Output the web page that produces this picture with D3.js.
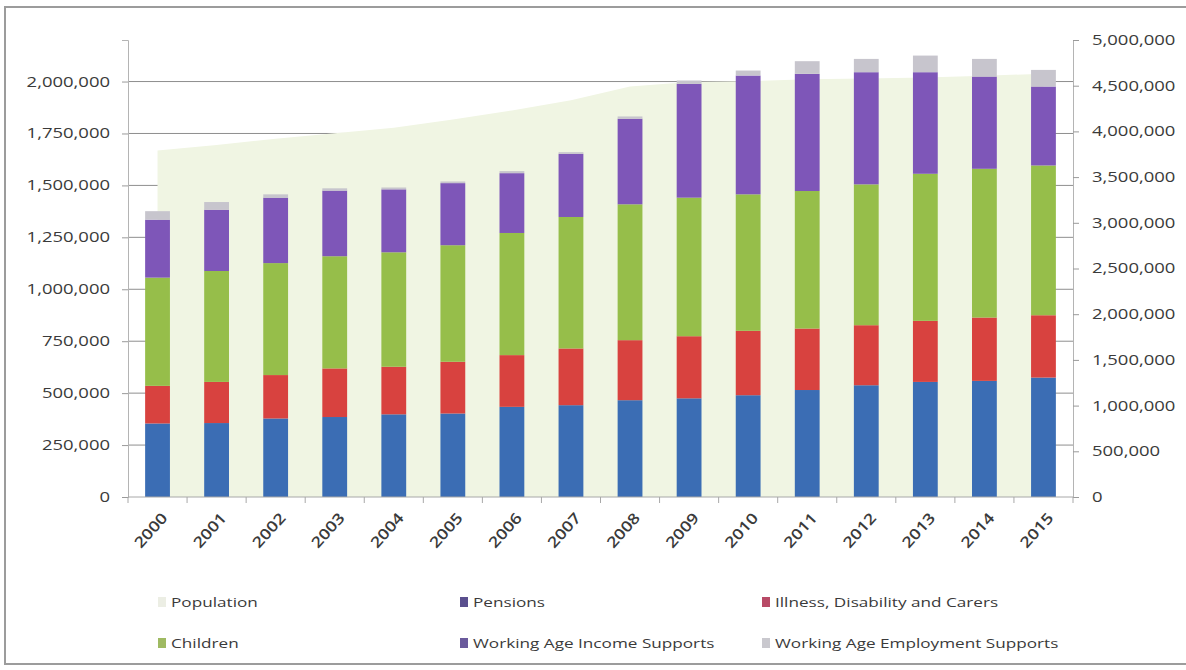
<!DOCTYPE html>
<html>
<head>
<meta charset="utf-8">
<script src="https://cdn.jsdelivr.net/npm/d3@7"></script>
<style>
  html, body { margin: 0; padding: 0; background: #ffffff; }
  svg { display: block; }
  text { font-family: "Open Sans", "Noto Sans", sans-serif; fill: #3a3a3a; }
</style>
</head>
<body>
<svg id="chart" width="1186" height="670"></svg>
<script>
// Social welfare recipients by scheme group (left axis) and population (right axis)
const years = ["2000","2001","2002","2003","2004","2005","2006","2007",
               "2008","2009","2010","2011","2012","2013","2014","2015"];

const pensions   = [354000, 356000, 378000, 385000, 398000, 402000, 434000, 442000,
                    466000, 475000, 490000, 515000, 538000, 554000, 559000, 575000];
const illness    = [181000, 198000, 209000, 234000, 229000, 249000, 249000, 273000,
                    289000, 299000, 310000, 296000, 289000, 294000, 305000, 300000];
const children   = [521000, 534000, 539000, 540000, 551000, 561000, 588000, 633000,
                    654000, 667000, 657000, 662000, 678000, 708000, 716000, 721000];
const incomeSupp = [279000, 295000, 315000, 316000, 303000, 299000, 288000, 304000,
                    412000, 548000, 572000, 564000, 540000, 489000, 444000, 380000];
const employSupp = [41000, 37000, 16000, 11000, 9000, 8000, 10000, 8000,
                    11000, 16000, 24000, 61000, 64000, 80000, 85000, 80000];

const population = [3790000, 3850000, 3920000, 3980000, 4040000, 4130000, 4230000, 4340000,
                    4490000, 4540000, 4550000, 4570000, 4580000, 4590000, 4610000, 4630000];

const leftTicks  = [0, 250000, 500000, 750000, 1000000, 1250000, 1500000, 1750000, 2000000];
const rightTicks = [0, 500000, 1000000, 1500000, 2000000, 2500000, 3000000, 3500000,
                    4000000, 4500000, 5000000];

const seriesKeys   = ["Pensions", "Illness, Disability and Carers", "Children",
                      "Working Age Income Supports", "Working Age Employment Supports"];
const seriesValues = [pensions, illness, children, incomeSupp, employSupp];
const barColors    = ["#3b6db4", "#d8423f", "#96be4a", "#7e56b8", "#c7c5cd"];

const legendItems = [
  { label: "Population",                       color: "#eceee4" },
  { label: "Pensions",                         color: "#5a4f8e" },
  { label: "Illness, Disability and Carers",   color: "#b84a66" },
  { label: "Children",                         color: "#9fba62" },
  { label: "Working Age Income Supports",      color: "#6a5a9c" },
  { label: "Working Age Employment Supports",  color: "#c9c8ce" }
];

const SX = 1.32; // horizontal text stretch

const svg = d3.select("#chart");

// outer frame
svg.append("rect")
  .attr("x", 5).attr("y", 7).attr("width", 1190).attr("height", 657)
  .attr("fill", "none").attr("stroke", "#9c9c9c").attr("stroke-width", 2);

const plotLeft = 128, plotRight = 1073, plotTop = 40, plotBottom = 497;

const x = d3.scaleBand().domain(years).range([plotLeft, plotRight])
  .paddingInner(0.58).paddingOuter(0.29);
const yL = d3.scaleLinear().domain([0, 2200000]).range([plotBottom, plotTop]);
const yR = d3.scaleLinear().domain([0, 5000000]).range([plotBottom, plotTop]);

// horizontal gridlines (left axis)
svg.append("g").selectAll("line").data(leftTicks.filter(d => d > 0)).join("line")
  .attr("x1", plotLeft).attr("x2", plotRight)
  .attr("y1", d => yL(d)).attr("y2", d => yL(d))
  .attr("stroke", "#8e8e8e").attr("stroke-width", 1);

// population area (right axis)
const popData = years.map((y, i) => ({ year: y, value: population[i] }));
const area = d3.area()
  .x(d => x(d.year) + x.bandwidth() / 2)
  .y0(yR(0))
  .y1(d => yR(d.value));
svg.append("path").datum(popData)
  .attr("d", area)
  .attr("fill", "#f0f5e3");

// stacked bars
const rows = years.map((y, i) => {
  const r = { year: y };
  seriesKeys.forEach((k, j) => { r[k] = seriesValues[j][i]; });
  return r;
});
const stacked = d3.stack().keys(seriesKeys)(rows);
svg.append("g").selectAll("g").data(stacked).join("g")
  .attr("fill", (d, i) => barColors[i])
  .selectAll("rect").data(d => d).join("rect")
  .attr("x", d => x(d.data.year))
  .attr("width", x.bandwidth())
  .attr("y", d => yL(d[1]))
  .attr("height", d => yL(d[0]) - yL(d[1]));

// left axis
const gL = svg.append("g").attr("transform", `translate(${plotLeft},0)`)
  .call(d3.axisLeft(yL).tickValues(leftTicks).tickSize(6).tickPadding(12)
        .tickFormat(d3.format(",")));
gL.select(".domain").attr("stroke", "#b4b4b4");
gL.selectAll(".tick line").attr("stroke", "#9a9a9a");
gL.selectAll(".tick text")
  .attr("font-size", 14)
  .attr("fill", "#333333")
  .attr("x", -18 / SX)
  .attr("transform", `scale(${SX},1)`);

// right axis
const gR = svg.append("g").attr("transform", `translate(${plotRight},0)`)
  .call(d3.axisRight(yR).tickValues(rightTicks).tickSize(6).tickPadding(13)
        .tickFormat(d3.format(",")));
gR.select(".domain").attr("stroke", "#b4b4b4");
gR.selectAll(".tick line").attr("stroke", "#9a9a9a");
gR.selectAll(".tick text")
  .attr("font-size", 14)
  .attr("fill", "#333333")
  .attr("x", 19 / SX)
  .attr("transform", `scale(${SX},1)`);

// category axis
const gX = svg.append("g").attr("transform", `translate(0,${plotBottom})`);
gX.append("line").attr("x1", plotLeft).attr("x2", plotRight)
  .attr("stroke", "#a8a8a8");
const boundaries = d3.range(years.length + 1).map(i => plotLeft + i * x.step());
gX.selectAll("line.b").data(boundaries).join("line").attr("class", "b")
  .attr("x1", d => d).attr("x2", d => d).attr("y1", 0).attr("y2", 6)
  .attr("stroke", "#a8a8a8");
gX.selectAll("text").data(years).join("text")
  .attr("transform", d => `translate(${x(d) + x.bandwidth() / 2 + 7},${18}) rotate(-48) scale(1.2,1)`)
  .attr("text-anchor", "end")
  .attr("dy", "0.35em")
  .attr("font-size", 15)
  .attr("font-weight", 600)
  .attr("fill", "#333333")
  .text(d => d);

// legend
const legendCols = [158, 460, 762];
const legendRows = [602, 643];
const lg = svg.append("g");
legendItems.forEach((item, i) => {
  const cx = legendCols[i % 3];
  const cy = legendRows[Math.floor(i / 3)];
  lg.append("rect")
    .attr("x", cx).attr("y", cy - 5).attr("width", 8).attr("height", 10)
    .attr("fill", item.color);
  lg.append("text")
    .attr("transform", `translate(${cx + 13},${cy}) scale(${SX},1)`)
    .attr("dy", "0.35em")
    .attr("font-size", 13)
    .attr("fill", "#404040")
    .text(item.label);
});
</script>
</body>
</html>
